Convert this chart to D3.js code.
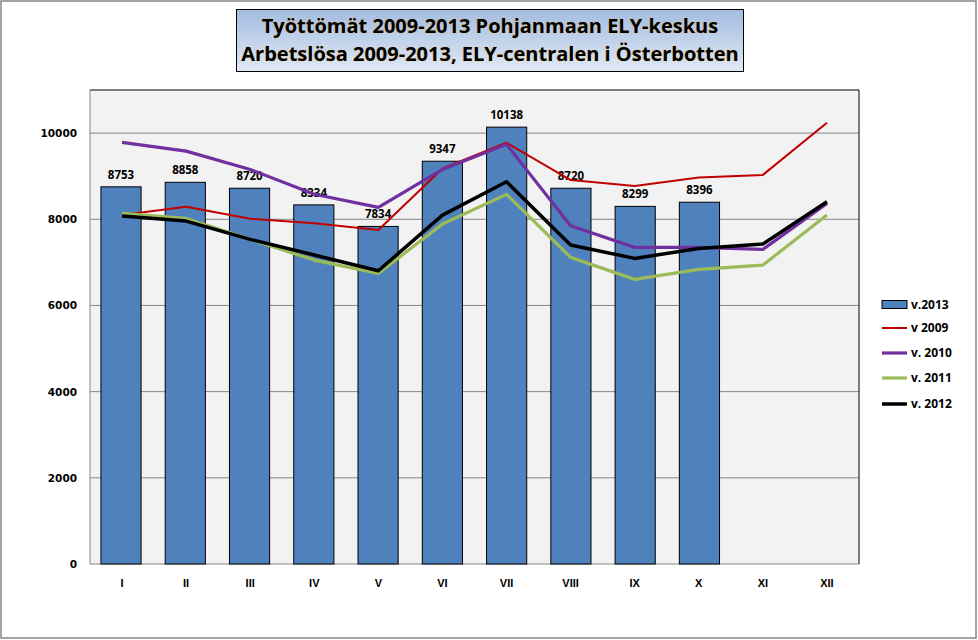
<!DOCTYPE html>
<html><head><meta charset="utf-8">
<script src="https://cdn.jsdelivr.net/npm/d3@7"></script>
<style>body{margin:0;background:#fff}svg{display:block}</style>
</head><body>
<svg id="c" width="978" height="640"></svg>
<script>
const months = ["I","II","III","IV","V","VI","VII","VIII","IX","X","XI","XII"];
const v2013 = [8753,8858,8720,8334,7834,9347,10138,8720,8299,8396];
const v2009 = [8100,8290,8010,7910,7750,9180,9775,8910,8770,8970,9030,10240];
const v2010 = [9784,9582,9157,8580,8276,9157,9738,7850,7348,7348,7302,8369];
const v2011 = [8137,8020,7534,7053,6744,7889,8578,7116,6605,6838,6937,8097];
const v2012 = [8074,7958,7534,7170,6806,8097,8870,7401,7092,7324,7425,8406];
const yTicks = [0,2000,4000,6000,8000,10000];
const titleLines = ["Työttömät 2009-2013  Pohjanmaan ELY-keskus","Arbetslösa 2009-2013, ELY-centralen i Österbotten"];

const svg = d3.select("#c");
const W=978,H=640;
svg.append("rect").attr("x",1).attr("y",1).attr("width",W-3).attr("height",H-3).attr("fill","#fff").attr("stroke","#868686").attr("stroke-width",1.5);

const L=90,R=859,T=90,B=564;
const x = d3.scaleBand().domain(months).range([L,R]).paddingInner(0.375).paddingOuter(0.17);
const xc = d3.scaleBand().domain(months).range([L,R]);
const y = d3.scaleLinear().domain([0,11000]).range([B,T]);

svg.append("rect").attr("x",L).attr("y",T).attr("width",R-L).attr("height",B-T).attr("fill","#f2f2f2");
svg.append("g").selectAll("line").data(yTicks.filter(d=>d>0)).join("line")
  .attr("x1",L).attr("x2",R).attr("y1",d=>y(d)).attr("y2",d=>y(d)).attr("stroke","#868686").attr("stroke-width",1);
svg.append("line").attr("x1",L).attr("x2",R).attr("y1",T).attr("y2",T).attr("stroke","#000");
svg.append("line").attr("x1",R).attr("x2",R).attr("y1",T).attr("y2",B).attr("stroke","#000");
svg.append("line").attr("x1",L).attr("x2",L).attr("y1",T).attr("y2",B).attr("stroke","#868686");
svg.append("line").attr("x1",L).attr("x2",R).attr("y1",B).attr("y2",B).attr("stroke","#868686");

svg.append("g").selectAll("text").data(yTicks).join("text")
  .attr("x",77).attr("y",d=>y(d)+4).attr("text-anchor","end")
  .attr("font-family","DejaVu Sans, sans-serif").attr("font-weight","bold").attr("font-size",10.5).text(d=>d);
svg.append("g").selectAll("text").data(months).join("text")
  .attr("x",d=>xc(d)+xc.bandwidth()/2).attr("y",587).attr("text-anchor","middle")
  .attr("font-family","Liberation Sans Narrow, Liberation Sans, sans-serif").attr("font-weight","bold").attr("font-size",11).text(d=>d);

const bars = v2013.map((v,i)=>({m:months[i],v}));
svg.append("g").selectAll("rect").data(bars).join("rect")
  .attr("x",d=>x(d.m)).attr("width",x.bandwidth()).attr("y",d=>y(d.v)).attr("height",d=>B-y(d.v))
  .attr("fill","#4f81bd").attr("stroke","#000").attr("stroke-width",1);
svg.append("g").selectAll("text").data(bars).join("text")
  .attr("x",d=>x(d.m)+x.bandwidth()/2).attr("y",d=>y(d.v)-8).attr("text-anchor","middle")
  .attr("font-family","Open Sans, sans-serif").attr("font-weight","bold").attr("font-size",11.5).attr("fill","#000").text(d=>d.v);

const series = [
  {name:"v 2009",vals:v2009,color:"#c00000",w:2},
  {name:"v. 2010",vals:v2010,color:"#7030a0",w:3.2},
  {name:"v. 2011",vals:v2011,color:"#9bbb59",w:3.2},
  {name:"v. 2012",vals:v2012,color:"#000000",w:3.5}
];
const line = d3.line().x((d,i)=>xc(months[i])+xc.bandwidth()/2).y(d=>y(d));
series.forEach(s=>{
  svg.append("path").attr("d",line(s.vals)).attr("fill","none").attr("stroke",s.color).attr("stroke-width",s.w).attr("stroke-linejoin","round");
});

const lg = svg.append("g");
const ly=[305,328,353,378,404];
lg.append("rect").attr("x",882).attr("y",ly[0]-4.5).attr("width",25).attr("height",8).attr("fill","#4f81bd").attr("stroke","#000");
lg.append("text").attr("x",911).attr("y",ly[0]+4).attr("font-family","Open Sans, sans-serif").attr("font-weight","bold").attr("font-size",12).text("v.2013");
series.forEach((s,i)=>{
  lg.append("line").attr("x1",882).attr("x2",907).attr("y1",ly[i+1]).attr("y2",ly[i+1]).attr("stroke",s.color).attr("stroke-width",s.w);
  lg.append("text").attr("x",911).attr("y",ly[i+1]+4).attr("font-family","Open Sans, sans-serif").attr("font-weight","bold").attr("font-size",12).text(s.name);
});

const defs = svg.append("defs");
const gr = defs.append("linearGradient").attr("id","tg").attr("x1",0).attr("y1",0).attr("x2",0).attr("y2",1);
gr.append("stop").attr("offset","0%").attr("stop-color","#a3bce0");
gr.append("stop").attr("offset","100%").attr("stop-color","#e0e9f5");
svg.append("rect").attr("x",236.5).attr("y",9.5).attr("width",507).attr("height",62).attr("fill","url(#tg)").attr("stroke","#000").attr("stroke-width",1);
svg.selectAll(".tt").data(titleLines).join("text").attr("class","tt")
  .attr("x",490).attr("y",(d,i)=>33+i*28).attr("text-anchor","middle")
  .attr("font-family","Open Sans, sans-serif").attr("font-weight","bold").attr("font-size",20)
  .attr("fill","#000").style("paint-order","stroke").attr("stroke","#e8c070").attr("stroke-width",0.6).text(d=>d);
</script>
</body></html>
